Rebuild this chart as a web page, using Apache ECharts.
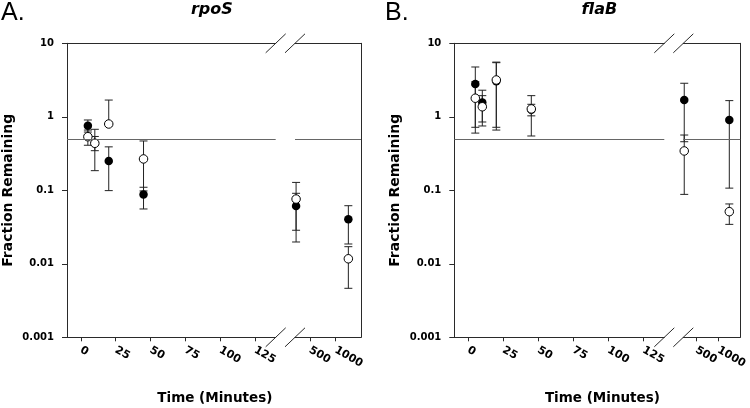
<!DOCTYPE html>
<html><head><meta charset="utf-8">
<script src="https://cdn.jsdelivr.net/npm/echarts@6/dist/echarts.min.js"></script>
<style>html,body{margin:0;padding:0;background:#fff}#c{width:750px;height:408px}</style>
</head><body><div id="c"></div>
<script>
// ---- data ----
const times = [5, 10, 20, 45, 345, 1420];
const xTicksEarly = [0, 25, 50, 75, 100, 125];
const xTicksLate = [500, 1000];
const yTicks = [0.001, 0.01, 0.1, 1, 10];

const rpoS_filled_mean = [0.757, 0.44, 0.25, 0.088, 0.061, 0.0403];
const rpoS_filled_low  = [0.62, 0.346, 0.099, 0.0557, 0.0286, 0.0186];
const rpoS_filled_high = [0.905, 0.54, 0.39, 0.11, 0.091, 0.0617];
const rpoS_open_mean   = [0.536, 0.436, 0.798, 0.267, 0.076, 0.0117];
const rpoS_open_low    = [0.41, 0.185, 0.798, 0.098, 0.0198, 0.00464];
const rpoS_open_high   = [0.66, 0.676, 1.69, 0.469, 0.128, 0.0171];

const flaB_filled_mean = [2.79, 1.56, 3.05, 1.25, 1.69, 0.904];
const flaB_filled_low  = [0.72, 0.75, 0.66, 1.03, 0.458, 0.107];
const flaB_filled_high = [4.76, 2.3, 5.45, 1.48, 2.86, 1.66];
const flaB_open_mean   = [1.79, 1.37, 3.17, 1.28, 0.343, 0.0512];
const flaB_open_low    = [0.6, 0.85, 0.72, 0.548, 0.088, 0.0344];
const flaB_open_high   = [3.0, 1.94, 5.55, 1.94, 0.565, 0.0652];

const thresholdLine = 0.5;
const panelLetters = ['A.', 'B.'];
const panelTitles = ['rpoS', 'flaB'];
const xAxisTitle = 'Time (Minutes)';
const yAxisTitle = 'Fraction Remaining';

// ---- layout ----
const FONT = 'DejaVu Sans';
const TOP = 43.3, HEIGHT = 294;
const panels = [
  { leftX: 66.7, leftW: 209, rightX: 295, rightW: 66, letterX: 1,
    filled: [rpoS_filled_mean, rpoS_filled_low, rpoS_filled_high],
    open: [rpoS_open_mean, rpoS_open_low, rpoS_open_high] },
  { leftX: 454.3, leftW: 210, rightX: 683.3, rightW: 65.2, letterX: 385,
    filled: [flaB_filled_mean, flaB_filled_low, flaB_filled_high],
    open: [flaB_open_mean, flaB_open_low, flaB_open_high] }
];
const AX = '#2a2a2a';

function rows(arrs, early) {
  const out = [];
  times.forEach((t, i) => {
    if ((t < 200) === early) out.push([t, arrs[0][i], arrs[1][i], arrs[2][i]]);
  });
  return out;
}

function renderErr(params, api) {
  const x = api.value(0), m = api.value(1), lo = api.value(2), hi = api.value(3);
  const pLo = api.coord([x, lo]), pHi = api.coord([x, hi]);
  const hw = 4;
  const st = { stroke: '#222', lineWidth: 1 };
  const ch = [{ type: 'line', shape: { x1: pHi[0], y1: pHi[1], x2: pLo[0], y2: pLo[1] }, style: st }];
  if (hi > m) ch.push({ type: 'line', shape: { x1: pHi[0] - hw, y1: pHi[1], x2: pHi[0] + hw, y2: pHi[1] }, style: st });
  if (lo < m) ch.push({ type: 'line', shape: { x1: pLo[0] - hw, y1: pLo[1], x2: pLo[0] + hw, y2: pLo[1] }, style: st });
  return { type: 'group', children: ch };
}

const grid = [], xAxis = [], yAxis = [], series = [], graphic = [];
const labelStyle = { fontFamily: FONT, fontWeight: 'bold', fontSize: 10, color: '#000' };

panels.forEach((P, p) => {
  [0, 1].forEach(s => {
    const gi = p * 2 + s;
    const early = s === 0;
    grid.push({ left: early ? P.leftX : P.rightX, width: early ? P.leftW : P.rightW, top: TOP, height: HEIGHT, containLabel: false });
    const base = early ? { type: 'value', min: -10, max: 140 } : { type: 'log', min: 335, max: 2000 };
    const ticks = early ? xTicksEarly : xTicksLate;
    xAxis.push(Object.assign({}, base, {
      gridIndex: gi, position: 'bottom',
      axisLine: { show: true, onZero: false, lineStyle: { color: AX, width: 1 } },
      axisTick: { show: true, inside: false, length: 4, customValues: ticks, lineStyle: { color: AX } },
      axisLabel: Object.assign({ show: true, rotate: -30, margin: 12, customValues: ticks,
        formatter: v => String(Math.round(v)) }, labelStyle, { fontSize: 11 }),
      splitLine: { show: false }, minorTick: { show: false }
    }));
    xAxis.push(Object.assign({}, base, {
      gridIndex: gi, position: 'top',
      axisLine: { show: true, onZero: false, lineStyle: { color: AX, width: 1 } },
      axisTick: { show: false }, axisLabel: { show: false }, splitLine: { show: false }
    }));
    yAxis.push(early ? {
      type: 'log', gridIndex: gi, min: 0.001, max: 10, position: 'left',
      axisLine: { show: true, onZero: false, lineStyle: { color: AX, width: 1 } },
      axisTick: { show: true, inside: false, length: 5, lineStyle: { color: AX } },
      axisLabel: Object.assign({ margin: 13, formatter: v => String(+(+v).toPrecision(2)) }, labelStyle, { fontSize: 10 }),
      splitLine: { show: false },
      name: yAxisTitle, nameLocation: 'middle', nameGap: 52,
      nameTextStyle: { fontFamily: FONT, fontWeight: 'bold', fontSize: 14, color: '#000' }
    } : {
      type: 'log', gridIndex: gi, min: 0.001, max: 10, position: 'right',
      axisLine: { show: true, onZero: false, lineStyle: { color: AX, width: 1 } },
      axisTick: { show: false }, axisLabel: { show: false }, splitLine: { show: false }
    });
    const fData = rows(P.filled, early), oData = rows(P.open, early);
    const xi = gi * 2, yi = gi;
    series.push({ type: 'custom', xAxisIndex: xi, yAxisIndex: yi, renderItem: renderErr, data: fData,
      encode: { x: 0, y: 1 }, z: 2, silent: true, clip: false });
    series.push({ type: 'custom', xAxisIndex: xi, yAxisIndex: yi, renderItem: renderErr, data: oData,
      encode: { x: 0, y: 1 }, z: 2, silent: true, clip: false });
    series.push({ type: 'scatter', xAxisIndex: xi, yAxisIndex: yi, data: fData.map(r => [r[0], r[1]]),
      symbol: 'circle', symbolSize: 8.5, itemStyle: { color: '#000', opacity: 1 }, z: 3, clip: false,
      markLine: { silent: true, symbol: ['none', 'none'], label: { show: false },
        lineStyle: { color: '#666', width: 1, type: 'solid' }, data: [{ yAxis: thresholdLine }] } });
    series.push({ type: 'scatter', xAxisIndex: xi, yAxisIndex: yi, data: oData.map(r => [r[0], r[1]]),
      symbol: 'circle', symbolSize: 8.5, itemStyle: { color: '#fff', borderColor: '#000', borderWidth: 1, opacity: 1 }, z: 4, clip: false });
  });

  // break marks
  const leftEnd = P.leftX + P.leftW, rightStart = P.rightX;
  [TOP, TOP + HEIGHT].forEach(cy => {
    [leftEnd, rightStart].forEach(cx => {
      graphic.push({ type: 'line', shape: { x1: cx - 10, y1: cy + 9.5, x2: cx + 10, y2: cy - 9.5 },
        style: { stroke: AX, lineWidth: 1 }, z: 10 });
    });
  });
  const center = (P.leftX + P.rightX + P.rightW) / 2;
  graphic.push({ type: 'text', left: P.letterX, top: 1, style: { text: panelLetters[p], font: '25px "Liberation Sans"', fill: '#000' } });
  graphic.push({ type: 'text', x: center - 2, y: 9.5, style: { text: panelTitles[p], font: 'italic bold 16px "' + FONT + '"', fill: '#000', align: 'center', verticalAlign: 'middle' } });
  graphic.push({ type: 'text', x: center + 1, y: 398, style: { text: xAxisTitle, font: 'bold 13.5px "' + FONT + '"', fill: '#000', align: 'center', verticalAlign: 'middle' } });
});

const chart = echarts.init(document.getElementById('c'), null, { renderer: 'canvas' });
chart.setOption({ animation: false, backgroundColor: '#fff', grid, xAxis, yAxis, series, graphic });
</script></body></html>
